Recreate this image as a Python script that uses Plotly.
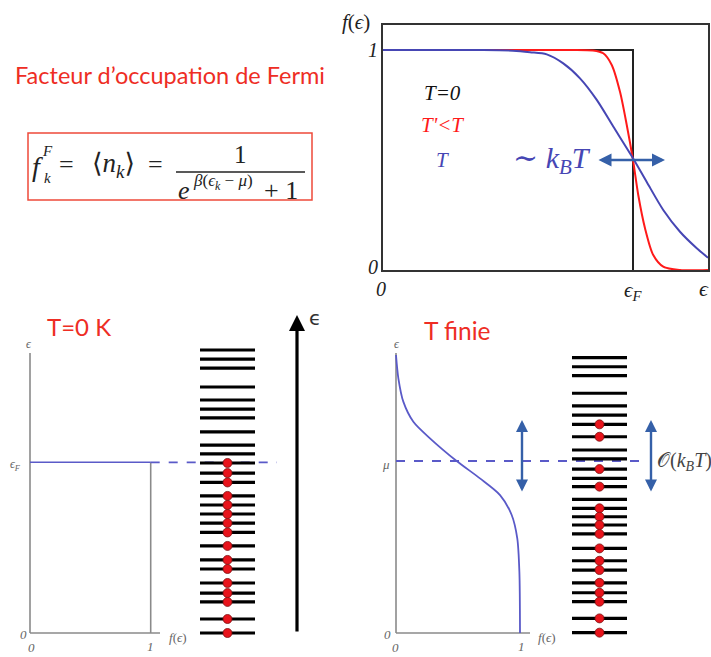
import plotly.graph_objects as go

W, H = 711, 657
def px(x): return x / W
def py(y): return 1 - y / H

# ---------------- data ----------------
# top-right: occupation f(eps), eps in units of eps_F
step_eps = [0.0, 1.0, 1.0]
step_f = [1.0, 1.0, 0.0]
red_eps = [0.0, 0.70, 0.84, 0.881, 0.915, 0.948, 0.975, 1.0, 1.021, 1.048, 1.081, 1.121, 1.188, 1.30]
red_f = [1.0, 1.0, 0.998, 0.985, 0.932, 0.81, 0.659, 0.5, 0.341, 0.19, 0.068, 0.015, 0.0, 0.0]
blue_eps = [0.0, 0.40, 0.52, 0.588, 0.655, 0.721, 0.788, 0.855, 0.921, 1.0, 1.055, 1.121, 1.188, 1.255, 1.30]
blue_f = [1.0, 1.0, 0.997, 0.99, 0.98, 0.939, 0.871, 0.773, 0.652, 0.508, 0.40, 0.273, 0.174, 0.099, 0.056]

# bottom-right: finite T curve (f on x, eps/mu on y)
fin_f = [0.0, 0.019, 0.059, 0.14, 0.274, 0.489, 0.677, 0.839, 0.933, 0.978, 0.995, 1.0]
fin_eps = [1.616, 1.481, 1.345, 1.228, 1.132, 1.0, 0.899, 0.802, 0.686, 0.55, 0.356, 0.0]

# bottom-left: T=0 step (f on x, eps/eps_F on y)
zero_f = [1.0, 1.0]
zero_eps = [0.0, 1.0]

# energy ladders
left_levels = [1.658, 1.605, 1.552, 1.441, 1.365, 1.312, 1.260, 1.178, 1.101, 1.049,
               0.996, 0.937, 0.882, 0.803, 0.750, 0.697, 0.644, 0.589, 0.510, 0.428,
               0.375, 0.293, 0.234, 0.182, 0.082, 0.0]
left_occ = [0] * 10 + [1] * 16
right_levels = [1.601, 1.548, 1.496, 1.394, 1.320, 1.267, 1.213, 1.141, 1.064, 1.012,
                0.953, 0.899, 0.851, 0.777, 0.725, 0.676, 0.628, 0.576, 0.492, 0.420,
                0.366, 0.292, 0.234, 0.182, 0.085, 0.002]
right_occ = [0, 0, 0, 0, 0, 0, 1, 1, 0, 0, 1, 0, 1, 0, 1, 1, 1, 1, 1, 1, 1, 1, 1, 1, 1, 1]

RED_TXT = "#ee2d24"
BLUE = "#4646b4"
BLUE2 = "#5a5ac8"
ARROWB = "#3560a8"
GRAY = "#8a8a8a"
SERIF = "Liberation Serif, DejaVu Serif, serif"
SANS = "Lato, Open Sans, sans-serif"

fig = go.Figure()

# ---- top right ----
fig.add_trace(go.Scatter(x=step_eps, y=step_f, mode="lines", line=dict(color="#222", width=2),
                         xaxis="x", yaxis="y", hoverinfo="skip"))
fig.add_trace(go.Scatter(x=red_eps, y=red_f, mode="lines", line=dict(color="#ff1a1a", width=2, shape="spline", smoothing=0.8),
                         xaxis="x", yaxis="y", hoverinfo="skip"))
fig.add_trace(go.Scatter(x=blue_eps, y=blue_f, mode="lines", line=dict(color=BLUE, width=2, shape="spline", smoothing=0.8),
                         xaxis="x", yaxis="y", hoverinfo="skip"))

# ---- bottom left ----
fL, eL = 120.7, 170.7   # px per unit
fig.add_trace(go.Scatter(x=zero_f, y=zero_eps, mode="lines", line=dict(color=GRAY, width=1.6),
                         xaxis="x2", yaxis="y2", hoverinfo="skip"))
fig.add_trace(go.Scatter(x=[0, 0], y=[0, (633 - 353) / eL], mode="lines", line=dict(color=GRAY, width=1.6),
                         xaxis="x2", yaxis="y2", hoverinfo="skip"))
fig.add_trace(go.Scatter(x=[0, (160 - 30) / fL], y=[0, 0], mode="lines", line=dict(color=GRAY, width=1.6),
                         xaxis="x2", yaxis="y2", hoverinfo="skip"))
fig.add_trace(go.Scatter(x=[0, 1], y=[1, 1], mode="lines", line=dict(color=BLUE2, width=1.6),
                         xaxis="x2", yaxis="y2", hoverinfo="skip"))
fig.add_trace(go.Scatter(x=[1, (277 - 30) / fL], y=[1, 1], mode="lines", line=dict(color=BLUE2, width=1.8, dash="dash"),
                         xaxis="x2", yaxis="y2", hoverinfo="skip"))

def ladder(levels, occ, xa, ya):
    lx, ly = [], []
    for e in levels:
        lx += [0, 1, None]
        ly += [e, e, None]
    fig.add_trace(go.Scatter(x=lx, y=ly, mode="lines", line=dict(color="black", width=3.2),
                             xaxis=xa, yaxis=ya, hoverinfo="skip"))
    dy = [e for e, o in zip(levels, occ) if o]
    fig.add_trace(go.Scatter(x=[0.5] * len(dy), y=dy, mode="markers",
                             marker=dict(color="#e8141c", size=9, line=dict(color="#7a1010", width=0.8)),
                             xaxis=xa, yaxis=ya, hoverinfo="skip", cliponaxis=False))

ladder(left_levels, left_occ, "x3", "y2")

# ---- bottom right ----
fR, eR = 124.0, 172.0
fig.add_trace(go.Scatter(x=[0, 0], y=[0, (633 - 353) / eR], mode="lines", line=dict(color=GRAY, width=1.6),
                         xaxis="x4", yaxis="y4", hoverinfo="skip"))
fig.add_trace(go.Scatter(x=[0, (530 - 396) / fR], y=[0, 0], mode="lines", line=dict(color=GRAY, width=1.6),
                         xaxis="x4", yaxis="y4", hoverinfo="skip"))
fig.add_trace(go.Scatter(x=fin_f, y=fin_eps, mode="lines", line=dict(color=BLUE2, width=1.8, shape="spline", smoothing=0.8),
                         xaxis="x4", yaxis="y4", hoverinfo="skip"))
fig.add_trace(go.Scatter(x=[0, (640 - 396) / fR], y=[1, 1], mode="lines", line=dict(color=BLUE2, width=1.8, dash="dash"),
                         xaxis="x4", yaxis="y4", hoverinfo="skip"))
ladder(right_levels, right_occ, "x5", "y4")

hidden = dict(visible=False, showgrid=False, zeroline=False, fixedrange=True)
layout = dict(
    width=W, height=H, margin=dict(l=0, r=0, t=0, b=0),
    paper_bgcolor="white", plot_bgcolor="rgba(0,0,0,0)", showlegend=False,
    xaxis=dict(domain=[px(383), px(708)], range=[0, 1.3], showline=True, mirror=True, linecolor="#333",
               linewidth=1.5, showticklabels=False, showgrid=False, zeroline=False, ticks="", anchor="y"),
    yaxis=dict(domain=[py(270), py(25)], range=[0, 245 / 220], showline=True, mirror=True, linecolor="#333",
               linewidth=1.5, showticklabels=False, showgrid=False, zeroline=False, ticks="", anchor="x"),
    xaxis2=dict(domain=[px(20), px(340)], range=[-10 / fL, 310 / fL], anchor="y2", **hidden),
    yaxis2=dict(domain=[py(645), py(300)], range=[(633 - 645) / eL, (633 - 300) / eL], anchor="x2", **hidden),
    xaxis3=dict(domain=[px(200), px(255)], range=[0, 1], anchor="y2", **hidden),
    xaxis4=dict(domain=[px(386), px(711)], range=[-10 / fR, 315 / fR], anchor="y4", **hidden),
    yaxis4=dict(domain=[py(645), py(300)], range=[(633 - 645) / eR, (633 - 300) / eR], anchor="x4", **hidden),
    xaxis5=dict(domain=[px(572), px(627)], range=[0, 1], anchor="y4", **hidden),
)
fig.update_layout(**layout)

ann = []
def T(x, y, text, size, color="#222", family=SERIF, xanchor="center", yanchor="middle"):
    ann.append(dict(x=px(x), y=py(y), xref="paper", yref="paper", text=text, showarrow=False,
                    font=dict(size=size, color=color, family=family), xanchor=xanchor, yanchor=yanchor))

# top-left
T(13, 75, "Facteur d’occupation de Fermi", 23.5, RED_TXT, SANS, xanchor="left")
T(37, 166, "<i>f</i>", 28)
T(48, 151, "<i>F</i>", 15)
T(48, 178, "<i>k</i>", 15)
T(66, 164, "=", 26)
T(113, 165, "⟨<i>n</i><sub><i>k</i></sub>⟩", 27)
T(155, 164, "=", 26)
T(240, 154, "1", 25)
T(184, 190, "<i>e</i>", 26)
T(191, 182, "<i>β</i>(<i>ϵ</i><sub><i>k</i></sub> − <i>μ</i>)", 17, xanchor="left")
T(262, 190, "+ 1", 26, xanchor="left")

# top-right labels
T(356, 22, "<i>f</i>(<i>ϵ</i>)", 21)
T(373, 50, "<i>1</i>", 20)
T(373, 267, "<i>0</i>", 20)
T(381, 289, "<i>0</i>", 20)
T(633, 291, "<i>ϵ<sub>F</sub></i>", 21)
T(704, 288, "<i>ϵ</i>", 22)
T(442, 93, "<i>T=0</i>", 21, "#111")
T(442, 125, "<i>T'&lt;T</i>", 21, "#ff1a1a")
T(442, 160, "<i>T</i>", 21, BLUE)
T(593, 160, "∼ <i>k<sub>B</sub>T</i>", 30, BLUE, xanchor="right")

# bottom-left labels
T(79, 327, "T=0 K", 24, RED_TXT, SANS)
T(29, 344, "<i>ϵ</i>", 12, "#666")
T(15, 465, "<i>ϵ<sub>F</sub></i>", 12, "#666")
T(23, 634, "<i>0</i>", 13, "#666")
T(31, 647, "<i>0</i>", 13, "#666")
T(150, 646, "<i>1</i>", 13, "#666")
T(178, 637, "<i>f</i>(<i>ϵ</i>)", 13, "#666")
T(315, 318, "ϵ", 20, "#333", "DejaVu Sans")

# bottom-right labels
T(457, 330, "T finie", 24.5, RED_TXT, SANS)
T(397, 344, "<i>ϵ</i>", 12, "#666")
T(386, 464, "<i>μ</i>", 13, "#666")
T(388, 634, "<i>0</i>", 13, "#666")
T(395, 647, "<i>0</i>", 13, "#666")
T(521, 646, "<i>1</i>", 13, "#666")
T(547, 637, "<i>f</i>(<i>ϵ</i>)", 13, "#666")
T(655, 461, "𝒪(<i>k<sub>B</sub>T</i>)", 20, "#444", xanchor="left")

# arrows
def arrow(x, y, ax, ay, xr, yr, color, width, both=True, head=2, size=1.0):
    a = dict(x=x, y=y, ax=ax, ay=ay, xref=xr, yref=yr, axref=xr, ayref=yr, text="", showarrow=True,
             arrowhead=head, arrowsize=size, arrowwidth=width, arrowcolor=color, standoff=0, startstandoff=0)
    if both:
        a.update(arrowside="end+start", startarrowhead=head, startarrowsize=size)
    ann.append(a)

arrow(1.128, 0.5, 0.856, 0.5, "x", "y", ARROWB, 2.6)
arrow((297 - 30) / fL, (633 - 315) / eL, (297 - 30) / fL, 0, "x2", "y2", "black", 3.2, both=False)
arrow((522 - 396) / fR, (633 - 420) / eR, (522 - 396) / fR, (633 - 493) / eR, "x4", "y4", ARROWB, 2.4)
arrow((651 - 396) / fR, (633 - 420) / eR, (651 - 396) / fR, (633 - 493) / eR, "x4", "y4", ARROWB, 2.4)

shapes = [
    dict(type="rect", xref="paper", yref="paper", x0=px(28), x1=px(312), y0=py(200), y1=py(133),
         line=dict(color="#ee4a3a", width=1.5)),
    dict(type="line", xref="paper", yref="paper", x0=px(176), x1=px(305), y0=py(172), y1=py(172),
         line=dict(color="#222", width=1.3)),
]
fig.update_layout(annotations=ann, shapes=shapes)
fig.write_html("out.html")
